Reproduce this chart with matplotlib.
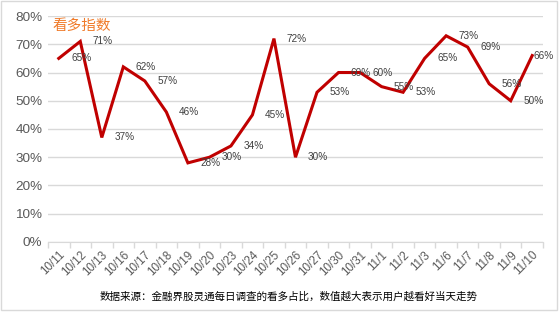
import matplotlib.pyplot as plt
from matplotlib.patches import Rectangle
from matplotlib.ticker import FixedLocator, PercentFormatter

plt.rcParams['font.family'] = ['Liberation Sans', 'Noto Sans CJK SC', 'DejaVu Sans']

# 数据
dates = ['10/11', '10/12', '10/13', '10/16', '10/17', '10/18', '10/19', '10/20',
         '10/23', '10/24', '10/25', '10/26', '10/27', '10/30', '10/31', '11/1',
         '11/2', '11/3', '11/6', '11/7', '11/8', '11/9', '11/10']
values = [65, 71, 37, 62, 57, 46, 28, 30, 34, 45, 72, 30, 53, 60, 60, 55,
          53, 65, 73, 69, 56, 50, 66]

title = '看多指数'
source = '数据来源：金融界股灵通每日调查的看多占比，数值越大表示用户越看好当天走势'

fig = plt.figure(figsize=(5.6, 3.12), dpi=100)
ax = fig.add_axes([0.0857, 0.2244, 0.8839, 0.7243])

x = list(range(len(dates)))
ax.plot(x, values, color='#C00000', lw=2.2, solid_joinstyle='miter', zorder=3)

# 数据标签（原图中标签向右偏移约一个分类）
n = len(dates)
for i, v in enumerate(values):
    lx = min(i + 1.05, n - 0.45)
    ax.text(lx, v, f'{v}%', ha='center', va='center', fontsize=7.2,
            color='#404040', clip_on=False, zorder=4)

ax.set_xlim(-0.5, n - 0.5)
ax.set_ylim(0, 80)
ax.set_yticks(range(0, 81, 10))
ax.yaxis.set_major_formatter(PercentFormatter(decimals=0))
ax.grid(axis='y', color='#D9D9D9', lw=1)
ax.set_axisbelow(True)

ax.set_xticks(x)
ax.set_xticklabels(dates, rotation=45, ha='right', va='top', rotation_mode='anchor')
ax.xaxis.set_minor_locator(FixedLocator([i - 0.5 for i in range(n + 1)]))
ax.tick_params(axis='x', which='major', length=0, pad=5, labelsize=8.4, labelcolor='#595959')
ax.tick_params(axis='x', which='minor', length=4, color='#D9D9D9', width=1)
ax.tick_params(axis='y', length=0, pad=4, labelsize=9.7, labelcolor='#595959')

for s in ['top', 'right', 'left']:
    ax.spines[s].set_visible(False)
ax.spines['bottom'].set_color('#D9D9D9')

ax.text(0.01, 0.955, title, transform=ax.transAxes, fontsize=10.5,
        color='#F07B2A', ha='left', va='center', family='Noto Sans CJK SC')

fig.text(0.516, 0.048, source, ha='center', va='center', fontsize=7.6,
         color='black', family='Noto Sans CJK SC')

fig.patches.append(Rectangle((0.002, 0.006), 0.992, 0.99, transform=fig.transFigure,
                             fill=False, edgecolor='#D9D9D9', lw=1))

fig.savefig('out.png', dpi=100)
